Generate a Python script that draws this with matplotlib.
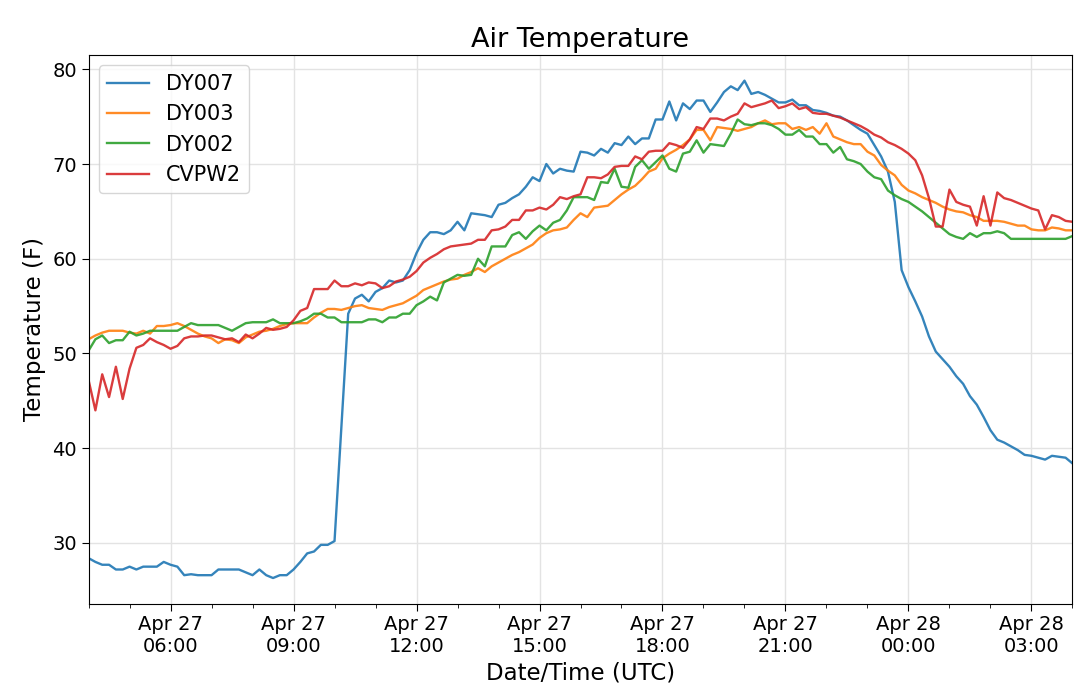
import numpy as np
import pandas as pd
import matplotlib
matplotlib.use("Agg")
from matplotlib import pyplot as plt
import matplotlib.dates as mdates

# 10-minute readings, Apr 27 04:00 UTC -> Apr 28 04:00 UTC
start = "2019-04-27 04:00"
n_obs = 145

dy007 = [
    28.4, 28.0, 27.7, 27.7, 27.2, 27.2,
    27.5, 27.2, 27.5, 27.5, 27.5, 28.0,
    27.7, 27.5, 26.6, 26.7, 26.6, 26.6,
    26.6, 27.2, 27.2, 27.2, 27.2, 26.9,
    26.6, 27.2, 26.6, 26.3, 26.6, 26.6,
    27.2, 28.0, 28.9, 29.1, 29.8, 29.8,
    30.2, np.nan, 54.2, 55.8, 56.2, 55.5,
    56.5, 56.9, 57.7, 57.5, 57.7, 58.8,
    60.6, 62.0, 62.8, 62.8, 62.6, 63.0,
    63.9, 63.0, 64.8, 64.7, 64.6, 64.4,
    65.7, 65.9, 66.4, 66.8, 67.6, 68.6,
    68.2, 70.0, 69.0, 69.5, 69.3, 69.2,
    71.3, 71.2, 70.9, 71.6, 71.2, 72.2,
    72.0, 72.9, 72.1, 72.7, 72.7, 74.7,
    74.7, 76.6, 74.6, 76.4, 75.8, 76.7,
    76.7, 75.5, 76.5, 77.6, 78.2, 77.8,
    78.8, 77.4, 77.6, 77.3, 76.9, 76.5,
    76.5, 76.8, 76.2, 76.2, 75.7, 75.6,
    75.4, 75.1, 75.0, 74.6, 74.1, 73.6,
    73.2, 72.0, 70.8, 69.2, 66.0, 58.8,
    57.0, 55.5, 53.9, 51.8, 50.2, 49.4,
    48.6, 47.6, 46.8, 45.5, 44.6, 43.3,
    41.9, 40.9, 40.6, 40.2, 39.8, 39.3,
    39.2, 39.0, 38.8, 39.2, 39.1, 39.0,
    38.4,
]

dy003 = [
    51.5, 51.9, 52.2, 52.4, 52.4, 52.4,
    52.2, 52.1, 52.4, 52.1, 52.9, 52.9,
    53.0, 53.2, 52.9, 52.5, 52.1, 51.8,
    51.6, 51.1, 51.5, 51.4, 51.1, 51.7,
    52.0, 52.3, 52.4, 52.6, 52.9, 53.1,
    53.2, 53.2, 53.2, 53.8, 54.3, 54.7,
    54.7, 54.6, 54.8, 55.0, 55.1, 54.8,
    54.7, 54.6, 54.9, 55.1, 55.3, 55.7,
    56.1, 56.7, 57.0, 57.3, 57.6, 57.8,
    57.9, 58.3, 58.6, 59.0, 58.6, 59.2,
    59.6, 60.0, 60.4, 60.7, 61.1, 61.5,
    62.2, 62.7, 63.0, 63.1, 63.3, 64.1,
    64.8, 64.4, 65.4, 65.5, 65.6, 66.2,
    66.8, 67.3, 67.7, 68.4, 69.2, 69.5,
    70.6, 71.1, 71.5, 72.0, 72.6, 73.6,
    73.6, 72.5, 73.9, 73.8, 73.7, 73.5,
    73.7, 73.9, 74.3, 74.6, 74.2, 74.3,
    74.3, 73.7, 73.9, 73.6, 73.9, 73.2,
    74.3, 72.9, 72.6, 72.3, 72.1, 72.1,
    71.3, 70.9, 69.9, 69.3, 68.8, 67.8,
    67.2, 66.9, 66.5, 66.2, 65.9, 65.5,
    65.2, 65.0, 64.9, 64.6, 64.4, 64.0,
    64.0, 64.0, 63.9, 63.7, 63.5, 63.5,
    63.1, 63.0, 63.0, 63.3, 63.2, 63.0,
    63.0,
]

dy002 = [
    50.3, 51.5, 51.9, 51.1, 51.4, 51.4,
    52.3, 51.9, 52.1, 52.4, 52.4, 52.4,
    52.4, 52.4, 52.8, 53.2, 53.0, 53.0,
    53.0, 53.0, 52.7, 52.4, 52.8, 53.2,
    53.3, 53.3, 53.3, 53.6, 53.2, 53.2,
    53.2, 53.4, 53.7, 54.2, 54.2, 53.8,
    53.8, 53.3, 53.3, 53.3, 53.3, 53.6,
    53.6, 53.3, 53.8, 53.8, 54.2, 54.2,
    55.1, 55.5, 56.0, 55.6, 57.5, 57.9,
    58.3, 58.2, 58.3, 60.0, 59.2, 61.3,
    61.3, 61.3, 62.5, 62.8, 62.1, 62.9,
    63.5, 63.0, 63.8, 64.1, 65.1, 66.5,
    66.5, 66.5, 66.2, 68.1, 68.0, 69.5,
    67.6, 67.5, 69.7, 70.4, 69.5, 70.2,
    70.9, 69.5, 69.2, 71.1, 71.3, 72.5,
    71.2, 72.1, 72.0, 71.9, 73.2, 74.7,
    74.2, 74.1, 74.3, 74.3, 74.1, 73.7,
    73.1, 73.1, 73.6, 72.9, 72.9, 72.1,
    72.1, 71.2, 71.8, 70.5, 70.3, 70.0,
    69.2, 68.6, 68.4, 67.2, 66.7, 66.3,
    66.0, 65.5, 65.0, 64.4, 63.8, 63.2,
    62.6, 62.3, 62.1, 62.7, 62.3, 62.7,
    62.7, 62.9, 62.7, 62.1, 62.1, 62.1,
    62.1, 62.1, 62.1, 62.1, 62.1, 62.1,
    62.4,
]

cvpw2 = [
    47.2, 44.0, 47.8, 45.4, 48.6, 45.2,
    48.4, 50.6, 50.9, 51.6, 51.2, 50.9,
    50.5, 50.8, 51.6, 51.8, 51.8, 51.9,
    51.9, 51.7, 51.5, 51.6, 51.2, 52.0,
    51.6, 52.1, 52.7, 52.5, 52.6, 52.8,
    53.5, 54.5, 54.8, 56.8, 56.8, 56.8,
    57.7, 57.1, 57.1, 57.4, 57.2, 57.5,
    57.4, 56.9, 57.1, 57.6, 57.8, 58.1,
    58.7, 59.6, 60.1, 60.5, 61.0, 61.3,
    61.4, 61.5, 61.6, 62.0, 62.0, 63.0,
    63.1, 63.4, 64.1, 64.1, 65.1, 65.1,
    65.4, 65.2, 65.7, 66.5, 66.3, 66.6,
    66.8, 68.6, 68.6, 68.5, 68.9, 69.7,
    69.8, 69.8, 70.8, 70.5, 71.3, 71.4,
    71.4, 72.2, 72.0, 71.7, 72.6, 73.9,
    73.7, 74.8, 74.8, 74.6, 75.0, 75.3,
    76.4, 76.0, 76.2, 76.4, 76.7, 75.9,
    76.1, 76.4, 75.8, 76.0, 75.4, 75.3,
    75.3, 75.1, 74.9, 74.6, 74.3, 74.0,
    73.6, 73.1, 72.8, 72.3, 72.0, 71.6,
    71.1, 70.4, 68.8, 66.4, 63.4, 63.4,
    67.3, 66.0, 65.7, 65.5, 63.5, 66.6,
    63.5, 67.0, 66.4, 66.2, 65.9, 65.6,
    65.3, 65.1, 63.1, 64.6, 64.4, 64.0,
    63.9,
]

series = {"DY007": dy007, "DY003": dy003, "DY002": dy002, "CVPW2": cvpw2}

times = pd.date_range(start, periods=n_obs, freq="10min")

fig, ax = plt.subplots(figsize=(10.8, 6.97), dpi=100)
fig.subplots_adjust(left=0.082, right=0.993, top=0.921, bottom=0.134)

for name, vals in series.items():
    s = pd.Series(vals, index=times).dropna()
    ax.plot(s.index, s.values, label=name, linewidth=1.7, alpha=0.9)

ax.set_xlim(times[0], times[-1])
ax.set_ylim(23.6, 81.5)

ax.xaxis.set_major_locator(mdates.HourLocator(byhour=range(0, 24, 3)))
ax.xaxis.set_minor_locator(mdates.HourLocator())
ax.xaxis.set_major_formatter(mdates.DateFormatter("%b %d\n%H:%M"))
ax.tick_params(axis="both", which="major", labelsize=14, length=5)
ax.tick_params(axis="x", which="minor", length=3)
for lbl in ax.get_xticklabels():
    lbl.set_horizontalalignment("center")

ax.grid(True, which="major", color="#e3e3e3", linewidth=1.0)

ax.set_title("Air Temperature", fontsize=19.5)
ax.set_xlabel("Date/Time (UTC)", fontsize=16.5)
ax.set_ylabel("Temperature (F)", fontsize=16.5)
ax.legend(loc="upper left", fontsize=15)

plt.savefig("out.png")
